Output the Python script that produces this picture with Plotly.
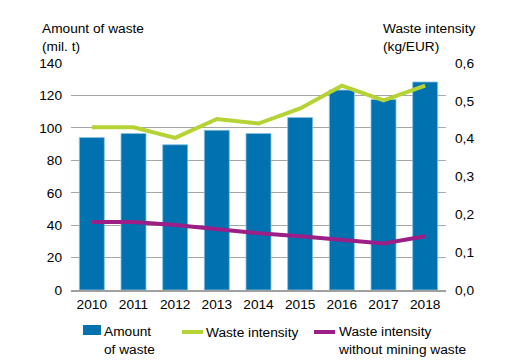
import plotly.graph_objects as go

years = ["2010", "2011", "2012", "2013", "2014", "2015", "2016", "2017", "2018"]
amount = [94.0, 96.5, 89.6, 98.5, 96.5, 106.4, 123.3, 117.5, 128.3]
intensity = [0.430, 0.430, 0.402, 0.452, 0.440, 0.480, 0.540, 0.501, 0.540]
intensity_no_mining = [0.180, 0.180, 0.172, 0.161, 0.150, 0.142, 0.132, 0.123, 0.142]

legend_labels = ["Amount<br>of waste", "Waste intensity", "Waste intensity<br>without mining waste"]

font = "Liberation Sans, Arial, sans-serif"
FS = 13.7
BLUE, GREEN, PURPLE = "#0072B0", "#B5D334", "#9C1F87"

# plot area in pixels
L, R, T, B = 71, 446, 63, 290
def px(x):
    return (x - L) / (R - L)
def py(y):
    return (B - y) / (B - T)

fig = go.Figure()
fig.add_trace(go.Bar(
    x=years, y=amount, name=legend_labels[0],
    marker=dict(color=BLUE, line=dict(color="#8cc0e0", width=0.8)),
    width=0.6, showlegend=False,
))
fig.add_trace(go.Scatter(
    x=years, y=intensity, name=legend_labels[1], yaxis="y2",
    mode="lines", line=dict(color=GREEN, width=4), showlegend=False,
))
fig.add_trace(go.Scatter(
    x=years, y=intensity_no_mining, name=legend_labels[2], yaxis="y2",
    mode="lines", line=dict(color=PURPLE, width=4), showlegend=False,
))

fig.update_layout(
    width=511, height=361,
    margin=dict(l=L, r=511 - R, t=T, b=361 - B, autoexpand=False),
    paper_bgcolor="white", plot_bgcolor="white",
    font=dict(family=font, size=FS, color="#000000"),
    separators=", ",
    showlegend=False,
    xaxis=dict(showgrid=False, showline=True, linecolor="#a0a0a0", linewidth=2,
               ticks="", tickfont=dict(size=FS), ticklabelstandoff=1),
    yaxis=dict(range=[0, 140], dtick=20, showgrid=True, gridcolor="#a6a6a6", gridwidth=1,
               zeroline=False, ticks="", tickfont=dict(size=FS), ticklabelstandoff=8),
    yaxis2=dict(range=[0, 0.6], dtick=0.1, tickformat=".1f", overlaying="y", side="right",
                showgrid=False, zeroline=False, ticks="", tickfont=dict(size=FS), ticklabelstandoff=8),
)

# axis titles
fig.add_annotation(text="Amount of waste<br>(mil. t)", xref="paper", yref="paper",
                   x=px(40), y=py(19), xanchor="left", yanchor="top",
                   showarrow=False, align="left", font=dict(size=FS))
fig.add_annotation(text="Waste intensity<br>(kg/EUR)", xref="paper", yref="paper",
                   x=px(381), y=py(19), xanchor="left", yanchor="top",
                   showarrow=False, align="left", font=dict(size=FS))

# legend (drawn manually)
fig.add_shape(type="rect", xref="paper", yref="paper",
              x0=px(83), x1=px(101), y0=py(335), y1=py(325),
              fillcolor=BLUE, line=dict(width=0))
fig.add_shape(type="line", xref="paper", yref="paper",
              x0=px(182), x1=px(203), y0=py(332), y1=py(332),
              line=dict(color=GREEN, width=4))
fig.add_shape(type="line", xref="paper", yref="paper",
              x0=px(314), x1=px(335), y0=py(332), y1=py(332),
              line=dict(color=PURPLE, width=4))
fig.add_annotation(text=legend_labels[0], xref="paper", yref="paper",
                   x=px(102), y=py(340), xanchor="left", yanchor="middle",
                   showarrow=False, align="left", font=dict(size=FS))
fig.add_annotation(text=legend_labels[1], xref="paper", yref="paper",
                   x=px(204), y=py(332), xanchor="left", yanchor="middle",
                   showarrow=False, align="left", font=dict(size=FS))
fig.add_annotation(text=legend_labels[2], xref="paper", yref="paper",
                   x=px(336), y=py(340), xanchor="left", yanchor="middle",
                   showarrow=False, align="left", font=dict(size=FS))

fig.write_html("out.html", config={"displayModeBar": False},
               post_script="document.body.style.margin='0';")
